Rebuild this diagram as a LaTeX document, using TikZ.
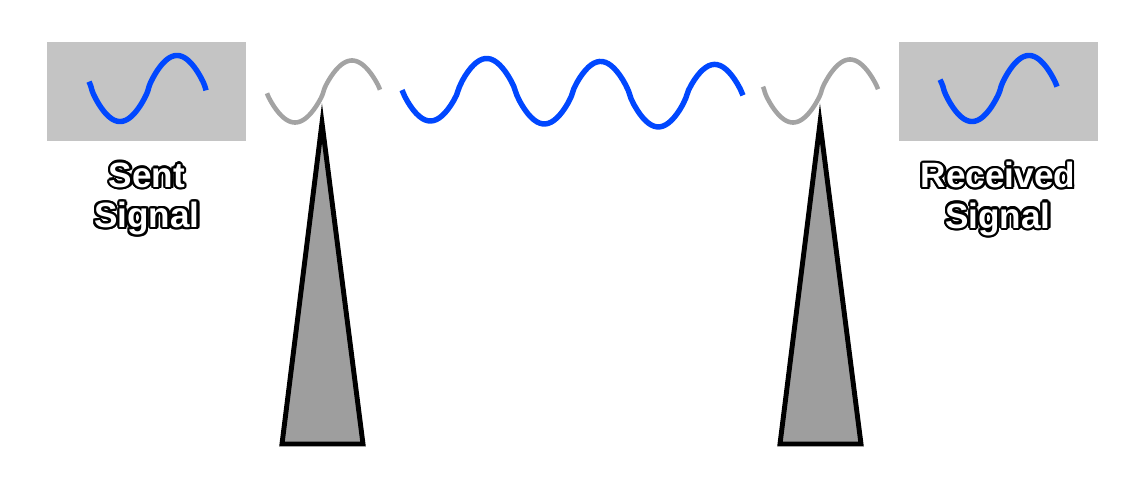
\documentclass[tikz,border=0pt]{standalone}
\usepackage{fontspec}
\setmainfont{Liberation Sans}
\usepackage{contour}
\usepackage{tikz}
\usetikzlibrary{positioning}
\contourlength{1.3pt}
\definecolor{sigblue}{HTML}{0047FF}
\definecolor{siggray}{HTML}{A3A3A3}
\definecolor{boxgray}{HTML}{C4C4C4}
\definecolor{mastgray}{HTML}{9E9E9E}
\newcommand{\sigtext}[1]{\textcolor{white}{\contour{black}{#1}}}
\tikzset{
  sigbox/.style   = {fill=boxgray, inner sep=0pt,
                     minimum width=3.98cm, minimum height=1.98cm},
  siglabel/.style = {font=\bfseries\fontsize{20pt}{23pt}\selectfont,
                     align=center, inner sep=0pt},
  bluewave/.style = {draw=sigblue, line width=3.1pt, samples=120},
  graywave/.style = {draw=siggray, line width=2.6pt, samples=120},
  mast/.style     = {draw=black, fill=mastgray, line width=2.8pt},
  declare function={wv(\t)=sign(cos(\t))*pow(abs(cos(\t))+0.0001,0.8);},
}

\begin{document}
\begin{tikzpicture}[x=0.02cm, y=-0.02cm]
  \useasboundingbox (0,0) rectangle (1146,496);
  % signal boxes
  \node[sigbox] (sentbox) at (146.5,91.5) {};
  \node[sigbox] (recvbox) at (998.5,91.5) {};
  \draw[bluewave] plot[domain=89:206] (\x,{88.5+33*wv(3.1579*(\x-120))});
  \draw[bluewave] plot[domain=940:1057] (\x,{88.5+33*wv(3.1579*(\x-972))});
  \node[siglabel] (sentlbl) at (147,200) {\sigtext{Sent}\\\sigtext{Signal}};
  \node[siglabel] (recvlbl) at (998,200) {\sigtext{Received}\\\sigtext{Signal}};
  % antennas
  \draw[mast] (322,123) -- (363,444) -- (282,444) -- cycle;
  \draw[mast] (820,123) -- (861,444) -- (780,444) -- cycle;
  % waves in the air
  \draw[graywave] plot[domain=267:380] (\x,{91.5+31*wv(3.1579*(\x-295))});
  \draw[bluewave] plot[domain=402:743]
    (\x,{89+0.026*(\x-430)+32*wv(3.1579*(\x-430))});
  \draw[graywave] plot[domain=763:878] (\x,{91+31.5*wv(3.1579*(\x-793))});
\end{tikzpicture}
\end{document}
